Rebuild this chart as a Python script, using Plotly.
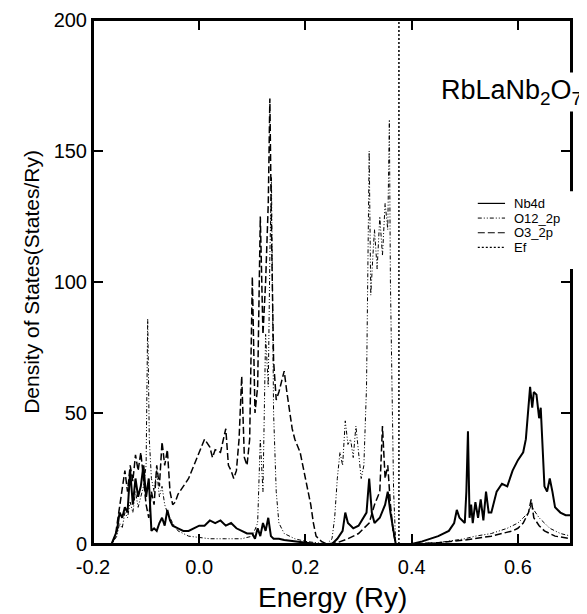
import plotly.graph_objects as go

# ---------------- data ----------------
nb4d_e = [-0.20, -0.165, -0.155, -0.15, -0.145, -0.14, -0.135, -0.13, -0.125, -0.12, -0.115, -0.11,
          -0.105, -0.10, -0.095, -0.09, -0.085, -0.08, -0.075, -0.07, -0.065, -0.06, -0.055, -0.05,
          -0.04, -0.03, -0.02, -0.01, 0.0, 0.01, 0.02, 0.03, 0.04, 0.05, 0.06, 0.07, 0.08, 0.09, 0.10,
          0.105, 0.11, 0.115, 0.12, 0.125, 0.13, 0.135, 0.14, 0.15, 0.16, 0.18, 0.20, 0.22, 0.25, 0.26,
          0.27, 0.275, 0.28, 0.29, 0.30, 0.31, 0.315, 0.32, 0.325, 0.33, 0.34, 0.35, 0.355, 0.36, 0.365,
          0.37, 0.40, 0.42, 0.45, 0.47, 0.48, 0.485, 0.49, 0.50, 0.503, 0.506, 0.509, 0.512, 0.515,
          0.52, 0.525, 0.53, 0.535, 0.54, 0.545, 0.55, 0.56, 0.57, 0.58, 0.59, 0.60, 0.61, 0.615, 0.62,
          0.623, 0.627, 0.63, 0.635, 0.64, 0.643, 0.646, 0.65, 0.655, 0.66, 0.665, 0.67, 0.68, 0.69, 0.70]
nb4d_dos = [0, 0, 5, 12, 10, 14, 12, 28, 15, 25, 18, 22,
            30, 18, 25, 5, 6, 5, 8, 10, 7, 13, 9, 7,
            6, 5, 5, 6, 7, 7, 9, 8, 9, 7, 8, 6, 5, 4, 4,
            2, 6, 3, 8, 5, 10, 3, 2, 2, 1.5, 1, 0.5, 0, 0, 2,
            5, 12, 8, 6, 7, 10, 12, 25, 12, 8, 10, 15, 20, 12, 5,
            0, 0, 1, 3, 5, 8, 13, 10, 8, 20, 43, 10, 15, 8,
            16, 10, 17, 9, 20, 12, 12, 20, 23, 22, 28, 32, 35, 40, 55,
            60, 52, 58, 57, 48, 52, 40, 22, 20, 25, 20, 14, 12, 11, 11]

o12_e = [-0.20, -0.165, -0.155, -0.15, -0.145, -0.14, -0.135, -0.13, -0.125, -0.12, -0.115, -0.11,
         -0.105, -0.10, -0.097, -0.094, -0.09, -0.085, -0.08, -0.075, -0.07, -0.065, -0.06, -0.055,
         -0.05, -0.04, -0.03, -0.02, 0.0, 0.02, 0.05, 0.08, 0.10, 0.11, 0.115, 0.12, 0.125, 0.13,
         0.133, 0.136, 0.14, 0.145, 0.15, 0.16, 0.18, 0.20, 0.22, 0.24, 0.25, 0.255, 0.26, 0.265,
         0.27, 0.275, 0.28, 0.285, 0.29, 0.295, 0.30, 0.305, 0.31, 0.315, 0.32, 0.323, 0.327, 0.33,
         0.335, 0.34, 0.345, 0.35, 0.355, 0.358, 0.36, 0.363, 0.366, 0.37, 0.40, 0.45, 0.50, 0.52,
         0.55, 0.58, 0.60, 0.61, 0.62, 0.625, 0.63, 0.64, 0.65, 0.66, 0.68, 0.70]
o12_dos = [0, 0, 3, 8, 6, 12, 10, 16, 12, 20, 14, 18,
           22, 30, 86, 40, 25, 20, 28, 18, 22, 15, 12, 10,
           8, 5, 4, 3, 2.5, 2, 2, 2, 3, 8, 40, 20, 80, 60,
           110, 140, 50, 20, 8, 4, 2, 1, 0.5, 0, 2, 10, 25, 35,
           30, 47, 38, 40, 33, 45, 35, 25, 30, 60, 150, 95, 110, 120,
           105, 125, 110, 130, 120, 162, 100, 60, 20, 0, 0, 0.5, 2, 3,
           4, 6, 8, 10, 12, 15, 13, 10, 8, 6, 4, 3]

o3_e = [-0.20, -0.165, -0.158, -0.15, -0.145, -0.14, -0.135, -0.13, -0.125, -0.12, -0.115, -0.11,
        -0.105, -0.10, -0.095, -0.09, -0.085, -0.08, -0.075, -0.07, -0.065, -0.06, -0.055, -0.05,
        -0.045, -0.04, -0.03, -0.02, -0.01, 0.0, 0.01, 0.02, 0.025, 0.03, 0.04, 0.05, 0.055, 0.06,
        0.065, 0.07, 0.075, 0.08, 0.085, 0.09, 0.095, 0.10, 0.105, 0.11, 0.115, 0.12, 0.125, 0.13,
        0.133, 0.136, 0.14, 0.145, 0.15, 0.155, 0.16, 0.165, 0.17, 0.175, 0.18, 0.19, 0.20, 0.21,
        0.215, 0.22, 0.23, 0.24, 0.26, 0.28, 0.30, 0.31, 0.32, 0.33, 0.34, 0.345, 0.35, 0.355, 0.36,
        0.365, 0.37, 0.40, 0.45, 0.50, 0.52, 0.55, 0.57, 0.59, 0.60, 0.61, 0.62, 0.625, 0.63, 0.64,
        0.65, 0.67, 0.70]
o3_dos = [0, 0, 3, 15, 22, 28, 20, 30, 24, 34, 28, 35,
          25, 15, 10, 20, 15, 30, 22, 39, 30, 36, 20, 15,
          16, 19, 22, 25, 30, 35, 40, 37, 33, 36, 35, 44, 30, 28,
          25, 28, 40, 64, 33, 30, 40, 102, 50, 60, 125, 80, 100, 130,
          170, 120, 70, 55, 58, 62, 66, 58, 50, 44, 40, 35, 25, 15,
          8, 3, 1, 0, 0.5, 2, 4, 6, 8, 15, 20, 45, 25, 30, 15,
          5, 0, 0, 0.5, 1.5, 2, 3, 4, 5, 6, 8, 12, 17, 10, 7,
          5, 3, 2]

ef_e = [0.376, 0.376]
ef_dos = [0, 200]

x_ticks = [-0.2, 0.0, 0.2, 0.4, 0.6]
x_ticklabels = ["-0.2", "0.0", "0.2", "0.4", "0.6"]
y_ticks = [0, 50, 100, 150, 200]

series_names = ["Nb4d", "O12_2p", "O3_2p", "Ef"]

FONT = "Liberation Sans, Arial, Helvetica, sans-serif"

styles = [dict(color="black", width=2),
          dict(color="black", width=1, dash="4px,2px,1px,2px,1px,2px"),
          dict(color="black", width=1.5, dash="7px,3px"),
          dict(color="black", width=1.5, dash="2px,2px")]

fig = go.Figure()
for (xe, yd), name, st in zip([(nb4d_e, nb4d_dos), (o12_e, o12_dos), (o3_e, o3_dos), (ef_e, ef_dos)],
                              series_names, styles):
    fig.add_trace(go.Scatter(x=xe, y=yd, mode="lines", name=name, line=st, showlegend=False))

axis_common = dict(showline=True, linecolor="black", linewidth=2, mirror="ticks",
                   ticks="inside", ticklen=10, tickwidth=1.5, tickcolor="black",
                   showgrid=False, zeroline=False, automargin=False,
                   ticklabeloverflow="allow",
                   tickfont=dict(family=FONT, size=20, color="black"))

fig.update_xaxes(range=[-0.2, 0.7], tickvals=x_ticks, ticktext=x_ticklabels,
                 ticklabelstandoff=4, **axis_common)
fig.update_yaxes(range=[0, 200], tickvals=y_ticks,
                 title=dict(text="Density of States(States/Ry)",
                            font=dict(family=FONT, size=21, color="black"), standoff=8),
                 **axis_common)

# plot frame (drawn beneath the curves)
fig.add_shape(type="rect", xref="paper", yref="paper", x0=0, x1=1, y0=0, y1=1,
              line=dict(color="black", width=2), fillcolor="rgba(0,0,0,0)", layer="below")

# x-axis title
fig.add_annotation(xref="paper", yref="paper", x=0.5, y=-0.103, xanchor="center", yanchor="middle",
                   text="Energy (Ry)", showarrow=False,
                   font=dict(family=FONT, size=28, color="black"))

# title label with white background (covers the right frame line, as in the reference)
fig.add_annotation(xref="paper", yref="paper", x=1.029, y=0.863, xanchor="right", yanchor="middle",
                   text="RbLaNb<sub>2</sub>O<sub>7</sub>", showarrow=False,
                   font=dict(family=FONT, size=27, color="black"), bgcolor="white", borderpad=2)

# hand-drawn legend box (white, covers the right frame line)
fig.add_shape(type="rect", xref="paper", yref="paper", x0=0.797, x1=1.013, y0=0.525, y1=0.673,
              fillcolor="white", line=dict(width=0), layer="above")
legend_rows = [0.650, 0.622, 0.594, 0.566]
for name, st, yr in zip(series_names, styles, legend_rows):
    lst = dict(st)
    lst["width"] = min(lst["width"], 1.2)
    fig.add_shape(type="line", xref="paper", yref="paper", x0=0.805, x1=0.862, y0=yr, y1=yr,
                  line=lst, layer="above")
    fig.add_annotation(xref="paper", yref="paper", x=0.876, y=yr, xanchor="left", yanchor="middle",
                       text=name, showarrow=False, font=dict(family=FONT, size=13, color="black"))

# the page adds an 8px body margin, so the figure is sized to fit the 587x614 window
fig.update_layout(
    width=579, height=606,
    margin=dict(l=85, r=16, t=12, b=70),
    paper_bgcolor="white", plot_bgcolor="white",
    font=dict(family=FONT, color="black"),
    showlegend=False,
)

fig.write_html("out.html")
